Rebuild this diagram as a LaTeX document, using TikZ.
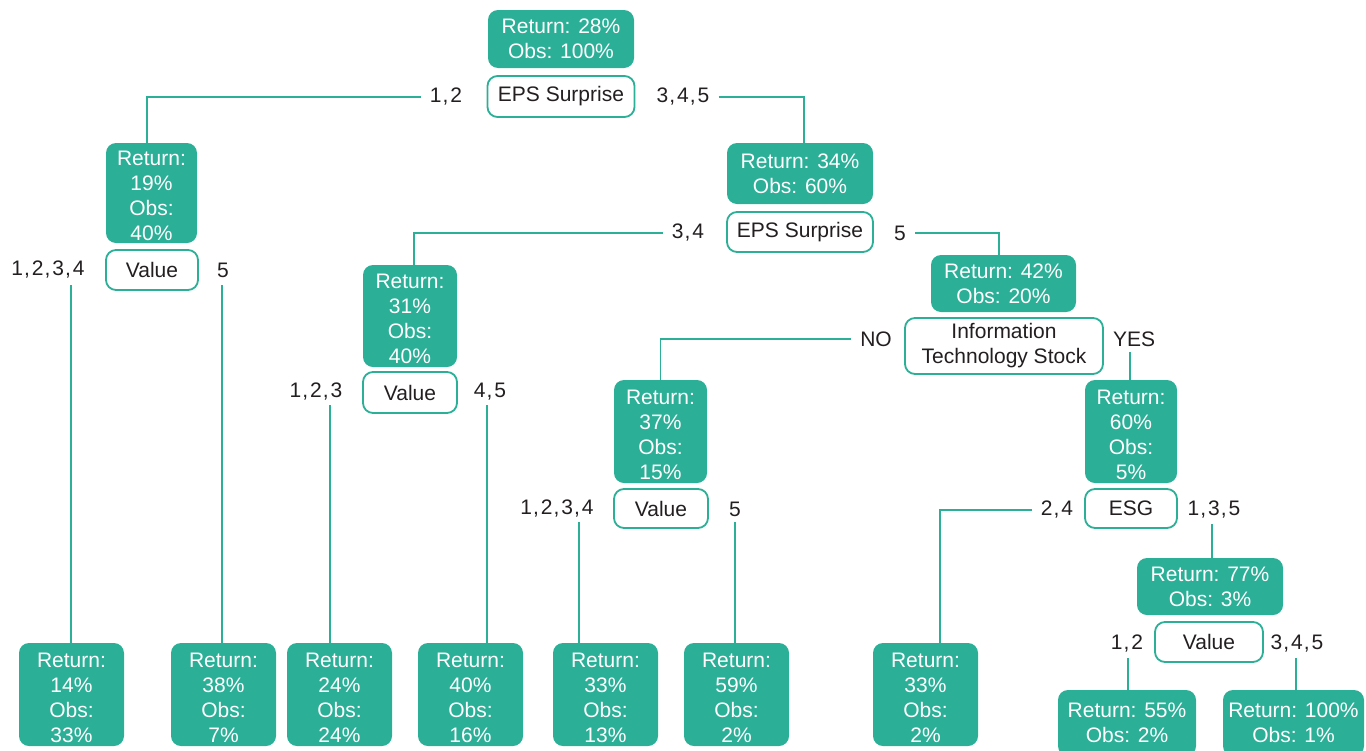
\documentclass[tikz,border=0pt]{standalone}
\usepackage{fontspec}
\setmainfont{Liberation Sans}
\definecolor{teal}{HTML}{2CAF97}
\definecolor{ink}{HTML}{231F20}
\newcommand{\cma}{\kern1pt,\kern2pt}
\newcommand{\four}[4]{\raisebox{-10.5pt}[0pt][0pt]{\begin{tabular}{@{}c@{}}#1\\#2\\#3\\#4\end{tabular}}}
\begin{document}
\begin{tikzpicture}[x=1pt,y=-1pt,
  every node/.style={font=\fontsize{21}{25}\selectfont},
  gbox/.style={fill=teal, rounded corners=10pt, text=white, align=center, inner sep=0pt},
  wbox/.style={draw=teal, line width=1.8pt, fill=white, rounded corners=10pt, text=ink, align=center, inner sep=0pt},
  lab/.style={text=ink, inner xsep=9pt, inner ysep=0pt},
  conn/.style={draw=teal, line width=1.3pt}]
\useasboundingbox (0,0) rectangle (1366,750);

% top level
\node[gbox, minimum width=146pt, minimum height=58pt] (root) at (561,39) {Return: 28\%\\Obs: 100\%};
\node[wbox, minimum width=147pt, minimum height=41pt] (eps1) at (561,96.5) {EPS Surprise};
\node[lab] (l12) at (446,97) {1\cma 2};
\node[lab] (l345) at (683,97) {3\cma 4\cma 5};

% left branch
\node[gbox, minimum width=91pt, minimum height=100pt] (g1) at (151.5,193) {\four{Return:}{19\%}{Obs:}{40\%}};
\node[wbox, minimum width=92pt, minimum height=40pt] (val1) at (152,270) {Value};
\node[lab] (l1234a) at (48,270) {1\cma 2\cma 3\cma 4};
\node[lab] (l5a) at (223,270) {5};

% right branch
\node[gbox, minimum width=146pt, minimum height=61pt] (g2) at (800,173.5) {Return: 34\%\\Obs: 60\%};
\node[wbox, minimum width=146pt, minimum height=40pt] (eps2) at (800,232) {EPS Surprise};
\node[lab] (l34) at (688,233) {3\cma 4};
\node[lab] (l5b) at (900,233) {5};

\node[gbox, minimum width=94pt, minimum height=102pt] (g3) at (410,316) {\four{Return:}{31\%}{Obs:}{40\%}};
\node[wbox, minimum width=94pt, minimum height=41pt] (val2) at (410,392.5) {Value};
\node[lab] (l123) at (316,392) {1\cma 2\cma 3};
\node[lab] (l45) at (490,392) {4\cma 5};

\node[gbox, minimum width=145pt, minimum height=57pt] (g4) at (1003.5,283.5) {Return: 42\%\\Obs: 20\%};
\node[wbox, minimum width=198pt, minimum height=56pt] (it) at (1004,346) {Information\\Technology Stock};
\node[lab] (lno) at (876,339) {NO};
\node[lab] (lyes) at (1134,339) {YES};

\node[gbox, minimum width=93pt, minimum height=103pt] (g5) at (660.5,431.5) {\four{Return:}{37\%}{Obs:}{15\%}};
\node[wbox, minimum width=94pt, minimum height=39pt] (val3) at (661,508.5) {Value};
\node[lab] (l1234b) at (557,509) {1\cma 2\cma 3\cma 4};
\node[lab] (l5c) at (735,509) {5};

\node[gbox, minimum width=92pt, minimum height=103pt] (g6) at (1131,431.5) {\four{Return:}{60\%}{Obs:}{5\%}};
\node[wbox, minimum width=92pt, minimum height=39pt] (esg) at (1131,508.5) {ESG};
\node[lab] (l24) at (1057,510) {2\cma 4};
\node[lab] (l135) at (1214,510) {1\cma 3\cma 5};

\node[gbox, minimum width=146pt, minimum height=57pt] (g7) at (1210,586.5) {Return: 77\%\\Obs: 3\%};
\node[wbox, minimum width=108pt, minimum height=40pt] (val4) at (1209,642) {Value};
\node[lab] (l12b) at (1127,644) {1\cma 2};
\node[lab] (l345b) at (1297,644) {3\cma 4\cma 5};

% leaves
\tikzset{leaf/.style={gbox, minimum width=105pt, minimum height=103pt}}
\node[leaf] (lf1) at (71.5,694.5) {\four{Return:}{14\%}{Obs:}{33\%}};
\node[leaf] (lf2) at (223.5,694.5) {\four{Return:}{38\%}{Obs:}{7\%}};
\node[leaf] (lf3) at (339.5,694.5) {\four{Return:}{24\%}{Obs:}{24\%}};
\node[leaf] (lf4) at (470.5,694.5) {\four{Return:}{40\%}{Obs:}{16\%}};
\node[leaf] (lf5) at (605.5,694.5) {\four{Return:}{33\%}{Obs:}{13\%}};
\node[leaf] (lf6) at (736.5,694.5) {\four{Return:}{59\%}{Obs:}{2\%}};
\node[leaf] (lf7) at (925.5,694.5) {\four{Return:}{33\%}{Obs:}{2\%}};
\node[gbox, minimum width=138pt, minimum height=66pt] (lf8) at (1127,723) {Return: 55\%\\Obs: 2\%};
\node[gbox, minimum width=141pt, minimum height=66pt] (lf9) at (1293.5,723) {Return: 100\%\\Obs: 1\%};

% connectors
\draw[conn] (l12.west) -| ([xshift=-4.5pt]g1.north);
\draw[conn] (l345.east) -| ([xshift=4pt]g2.north);
\draw[conn] (l34.west) -| ([xshift=4pt]g3.north);
\draw[conn] (l5b.east) -| ([xshift=-4.5pt]g4.north);
\draw[conn] (lno.west) -| (g5.north);
\draw[conn] (l24.west) -| ([xshift=14.5pt]lf7.north);

\coordinate (d1) at (71,285);
\coordinate (d2) at (222,285);
\coordinate (d3) at (330,405);
\coordinate (d4) at (487,405);
\coordinate (d5) at (579,522);
\coordinate (d6) at (735,522);
\coordinate (dy) at (1130,352);
\coordinate (d135) at (1212,524);
\coordinate (d8) at (1128,658);
\coordinate (d9) at (1296,658);
\draw[conn] (d1) -- (d1 |- lf1.north);
\draw[conn] (d2) -- (d2 |- lf2.north);
\draw[conn] (d3) -- (d3 |- lf3.north);
\draw[conn] (d4) -- (d4 |- lf4.north);
\draw[conn] (d5) -- (d5 |- lf5.north);
\draw[conn] (d6) -- (d6 |- lf6.north);
\draw[conn] (dy) -- (dy |- g6.north);
\draw[conn] (d135) -- (d135 |- g7.north);
\draw[conn] (d8) -- (d8 |- lf8.north);
\draw[conn] (d9) -- (d9 |- lf9.north);
\end{tikzpicture}
\end{document}
